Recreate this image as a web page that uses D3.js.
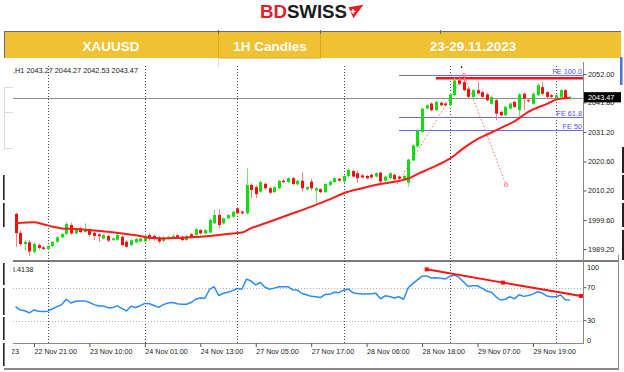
<!DOCTYPE html>
<html>
<head>
<meta charset="utf-8">
<script src="https://cdn.jsdelivr.net/npm/d3@7"></script>
<style>
  body { margin: 0; background: #fff; }
  svg { display: block; font-family: 'Liberation Sans', Arial, sans-serif; }
</style>
</head>
<body>
<div id="chart"></div>
<script>
// XAUUSD H1 candles, one entry per bar (bar 0 = 22 Nov 17:00)
const opens = [2001.8, 1995.0, 1991.0, 1991.6, 1988.2, 1990.6, 1989.8, 1989.2, 1990.3, 1991.8,
  1993.4, 1994.6, 1997.8, 1994.8, 1996.6, 1995.3, 1996.3, 1995.0, 1994.4, 1993.0,
  1993.9, 1992.4, 1992.5, 1993.6, 1991.8, 1990.6, 1991.6, 1991.9, 1991.9, 1994.2,
  1993.9, 1993.4, 1992.1, 1993.0, 1993.5, 1994.1, 1993.6, 1992.4, 1994.5, 1994.2,
  1996.0, 1994.8, 1995.1, 1998.4, 2001.4, 1998.4, 2000.2, 2000.8, 2003.8, 2002.6,
  2002.0, 2012.2, 2011.4, 2009.8, 2012.6, 2011.0, 2009.6, 2011.0, 2013.7, 2013.2,
  2014.6, 2012.4, 2013.7, 2010.6, 2013.4, 2010.2, 2010.7, 2009.6, 2012.2, 2013.2,
  2014.4, 2013.4, 2015.4, 2017.2, 2016.4, 2015.6, 2015.4, 2015.8, 2015.2, 2016.6,
  2013.7, 2014.6, 2015.8, 2015.2, 2014.0, 2013.0, 2021.0, 2026.0, 2031.2, 2039.6,
  2041.4, 2039.0, 2041.7, 2041.4, 2040.8, 2044.4, 2049.7, 2049.1, 2046.7, 2043.8,
  2046.2, 2045.5, 2044.7, 2041.3, 2042.6, 2038.4, 2037.2, 2039.6, 2042.0, 2039.0,
  2044.9, 2042.6, 2041.3, 2044.4, 2047.3, 2045.5, 2044.4, 2043.4, 2043.8, 2046.2,
  2043.27];
const highs = [2002.2, 1995.8, 1992.4, 1992.4, 1991.6, 1991.2, 1990.2, 1990.6, 1992.0, 1993.8,
  1995.0, 1998.9, 1998.6, 1996.4, 1997.0, 1998.4, 1996.6, 1995.4, 1994.8, 1994.6,
  1994.3, 1993.3, 1994.8, 1994.0, 1992.4, 1992.8, 1993.2, 1993.4, 1994.4, 1995.0,
  1994.4, 1993.8, 1993.8, 1994.0, 1994.6, 1994.6, 1994.0, 1994.4, 1994.9, 1996.8,
  1996.4, 1996.4, 2000.2, 2003.2, 2003.5, 2000.6, 2001.8, 2003.0, 2004.4, 2003.0,
  2018.2, 2012.8, 2012.2, 2013.8, 2013.0, 2011.6, 2011.8, 2014.0, 2014.2, 2015.0,
  2015.0, 2014.0, 2016.6, 2011.8, 2014.4, 2011.4, 2011.0, 2012.8, 2013.8, 2015.0,
  2014.8, 2015.8, 2018.2, 2017.6, 2017.4, 2016.0, 2015.8, 2016.2, 2016.8, 2017.0,
  2015.6, 2016.8, 2016.2, 2015.6, 2015.8, 2021.6, 2026.8, 2032.2, 2040.0, 2041.2,
  2041.8, 2042.4, 2042.2, 2041.8, 2045.2, 2050.6, 2051.5, 2051.6, 2047.2, 2046.6,
  2049.1, 2046.0, 2045.2, 2044.2, 2043.2, 2038.8, 2040.6, 2041.8, 2042.4, 2045.2,
  2045.4, 2043.0, 2045.4, 2048.6, 2049.1, 2046.0, 2044.8, 2044.8, 2046.6, 2046.6,
  2044.27];
const lows = [1989.9, 1990.3, 1988.5, 1986.7, 1987.6, 1989.0, 1988.8, 1988.8, 1989.8, 1991.4,
  1993.0, 1994.2, 1994.2, 1994.4, 1994.9, 1995.0, 1993.6, 1992.4, 1991.7, 1992.6,
  1991.7, 1992.0, 1992.2, 1990.2, 1989.6, 1990.2, 1991.2, 1991.6, 1991.6, 1992.2,
  1992.2, 1991.2, 1991.8, 1992.6, 1993.2, 1993.0, 1992.0, 1992.0, 1993.0, 1993.9,
  1994.4, 1994.4, 1994.8, 1998.0, 1996.6, 1998.0, 1999.8, 2000.4, 2001.6, 2001.6,
  2001.6, 2007.4, 2007.4, 2009.4, 2010.4, 2009.0, 2009.2, 2010.6, 2012.8, 2012.8,
  2012.0, 2012.0, 2009.8, 2010.2, 2010.2, 2005.6, 2009.2, 2009.2, 2011.8, 2012.8,
  2013.4, 2013.0, 2015.0, 2014.8, 2013.0, 2014.5, 2014.2, 2014.5, 2014.8, 2012.8,
  2013.3, 2014.2, 2013.8, 2014.0, 2013.6, 2011.5, 2020.6, 2025.6, 2030.8, 2039.2,
  2038.6, 2038.6, 2040.4, 2040.4, 2040.4, 2044.0, 2048.0, 2045.8, 2043.2, 2043.4,
  2044.6, 2043.4, 2042.2, 2040.9, 2035.4, 2036.8, 2036.8, 2039.2, 2039.8, 2036.7,
  2039.0, 2041.8, 2040.9, 2044.0, 2044.5, 2043.4, 2043.4, 2043.0, 2043.4, 2043.0,
  2042.53];
const closes = [1994.9, 1991.0, 1991.8, 1988.3, 1991.0, 1989.6, 1989.2, 1990.3, 1991.8, 1993.4,
  1994.6, 1998.2, 1994.8, 1996.0, 1995.3, 1996.0, 1994.3, 1993.9, 1993.8, 1994.2,
  1992.2, 1993.0, 1994.3, 1990.6, 1990.0, 1992.4, 1992.8, 1993.0, 1993.9, 1993.0,
  1992.9, 1991.9, 1993.4, 1993.6, 1993.9, 1993.4, 1992.4, 1993.9, 1993.4, 1996.3,
  1994.8, 1996.0, 1999.6, 2001.4, 1997.8, 2000.2, 2001.4, 2002.6, 2002.0, 2002.0,
  2012.2, 2010.4, 2008.9, 2013.2, 2011.0, 2009.4, 2011.4, 2013.7, 2013.2, 2014.6,
  2012.5, 2013.7, 2011.0, 2011.4, 2011.0, 2011.0, 2009.6, 2012.5, 2013.4, 2014.6,
  2013.7, 2015.4, 2017.6, 2015.2, 2014.6, 2014.9, 2014.6, 2014.9, 2016.4, 2013.4,
  2015.2, 2016.4, 2014.2, 2014.4, 2015.4, 2021.3, 2026.4, 2031.6, 2039.6, 2040.8,
  2039.0, 2042.0, 2040.8, 2040.8, 2044.7, 2049.7, 2048.5, 2046.2, 2043.8, 2046.2,
  2045.0, 2043.8, 2042.6, 2043.7, 2037.8, 2037.2, 2040.2, 2041.4, 2040.2, 2044.7,
  2043.2, 2042.2, 2044.9, 2048.0, 2044.9, 2043.8, 2043.8, 2044.4, 2046.2, 2043.4,
  2043.47];

// moving average, read at some bars
const maBars = [0, 4, 6, 8, 10, 13, 16, 20, 24, 27, 29, 32, 38, 42, 46, 49, 51, 53, 55, 59,
  64, 68, 71, 75, 79, 83, 85, 87, 90, 94, 97, 100, 103, 105, 108, 111, 115, 117, 119, 120];
const maValues = [1998.4, 1998.8, 1998.1, 1997.2, 1996.6, 1996.4, 1996.0, 1995.4, 1994.6, 1993.9,
  1993.2, 1993.0, 1993.4, 1993.9, 1994.6, 1995.1, 1996.7, 1997.8, 1999.0, 2001.4,
  2004.4, 2007.0, 2009.2, 2011.0, 2012.5, 2013.6, 2014.5, 2016.1, 2018.3, 2021.6,
  2025.4, 2028.6, 2031.0, 2032.6, 2035.0, 2038.4, 2041.3, 2042.8, 2043.4, 2043.5];

// RSI, one value per bar
const rsiValues = [47, 43, 42, 39.5, 43, 41.5, 41, 41.5, 44.5, 47,
  49.5, 56, 51.5, 53.5, 54, 54, 52, 49.5, 47.8, 47.8,
  45.8, 45.8, 48, 45, 41.8, 47.5, 46, 48.2, 51, 50.5,
  48.5, 46.2, 49.5, 51.5, 52, 50.5, 50, 50, 52, 56,
  57.5, 57.2, 68, 71.2, 60.5, 63.2, 64.5, 66.5, 69, 68.1,
  80.5, 78.1, 73.5, 76.3, 70.5, 68.1, 69.5, 71.2, 71.2, 71.2,
  67.5, 67.2, 63, 61.5, 59.5, 59, 58, 61.8, 62, 64.5,
  64, 67, 68.5, 64, 63, 62.4, 62.4, 62.8, 63.2, 56.5,
  60.2, 59.3, 57.5, 59, 56, 70, 75, 79.5, 84, 84.3,
  81.8, 82, 81.5, 80.5, 84, 85.2, 82.5, 77, 71.5, 72.4,
  72.4, 69.3, 66, 64.4, 59, 55.1, 56, 59, 56.5, 61.5,
  59.5, 60.5, 62.2, 65.2, 63.5, 60, 59.1, 59.1, 61.2, 55.5,
  55.1];

const timeLabelBars = [4, 16, 28, 40, 52, 64, 76, 88, 100, 112];
const timeLabels = ['22 Nov 21:00', '23 Nov 10:00', '24 Nov 01:00', '24 Nov 13:00', '27 Nov 05:00',
  '27 Nov 17:00', '28 Nov 06:00', '28 Nov 18:00', '29 Nov 07:00', '29 Nov 19:00'];
const daySeparatorBars = [7, 28, 48, 71, 94, 117];
const priceTicks = [2052.0, 2041.8, 2031.2, 2020.6, 2010.2, 1999.6, 1989.2];
const rsiTicks = [100, 70, 30, 0];
const rsiGrid = [70, 30];

const feLevels = [2051.5, 2036.4, 2031.9];
const feLabels = ['FE 100.0', 'FE 61.8', 'FE 50'];
const feStartBar = 83;
const fePointBars = [82.6, 97.1, 106.2];
const fePointPrices = [2012.5, 2051.6, 2012.2];
const resistancePrice = 2050.45;
const resistanceStartBar = 91;
const lastPrice = 2043.47;
const rsiTrendBars = [89, 105.5, 122.5];
const rsiTrendValues = [92.3, 76.2, 60];

const headerCells = ['XAUUSD', '1H Candles', '23-29.11.2023'];
const quoteText = ',H1  2043.27 2044.27 2042.53 2043.47';
const rsiTitle = 'I.4138';

const width = 624;
const height = 372;
const plot = { left: 13, right: 583, top: 62, mainBottom: 260, rsiTop: 262, rsiBottom: 343 };

const svg = d3.select('#chart')
  .append('svg')
  .attr('width', width)
  .attr('height', height);

const defs = svg.append('defs');
defs.append('clipPath').attr('id', 'clipMain')
  .append('rect')
  .attr('x', plot.left).attr('y', plot.top)
  .attr('width', plot.right - plot.left).attr('height', plot.mainBottom - plot.top);
defs.append('clipPath').attr('id', 'clipRsi')
  .append('rect')
  .attr('x', plot.left).attr('y', plot.rsiTop)
  .attr('width', plot.right - plot.left).attr('height', plot.rsiBottom - plot.rsiTop);
defs.append('clipPath').attr('id', 'clipLeft')
  .append('rect')
  .attr('x', plot.left - 1).attr('y', 0)
  .attr('width', width).attr('height', height);

// ---- logo + header bar ----
const logo = svg.append('text')
  .attr('x', 260)
  .attr('y', 18.4)
  .attr('font-size', 17.5)
  .attr('font-weight', 'bold')
  .attr('textLength', 87)
  .attr('lengthAdjust', 'spacingAndGlyphs');
logo.append('tspan').attr('fill', '#e3202a').text('BD');
logo.append('tspan').attr('fill', '#1b1b1b').text('SWISS');

svg.append('path')
  .attr('d', 'M348.5,7.2 L363.5,4.8 L353.5,18.2 Z')
  .attr('fill', '#e3202a');
svg.append('path')
  .attr('d', 'M350.5,11.5 h5 M353,9 v5')
  .attr('stroke', '#fff')
  .attr('stroke-width', 1.3);

const header = svg.append('g');
header.append('rect')
  .attr('x', 4).attr('y', 31)
  .attr('width', 617).attr('height', 27)
  .attr('fill', '#efc133');
header.append('rect')
  .attr('x', 218.5).attr('y', 31.5)
  .attr('width', 102).attr('height', 26.5)
  .attr('fill', 'none')
  .attr('stroke', '#d8aa22');
header.append('line')
  .attr('x1', 4).attr('x2', 621)
  .attr('y1', 31.5).attr('y2', 31.5)
  .attr('stroke', '#6b6b6b');
header.append('line')
  .attr('x1', 4.5).attr('x2', 4.5)
  .attr('y1', 31).attr('y2', 58)
  .attr('stroke', '#6b6b6b');
[218.5, 320.5, 440.5].forEach((xx) => {
  header.append('line')
    .attr('x1', xx).attr('x2', xx)
    .attr('y1', 30).attr('y2', 34)
    .attr('stroke', '#6b6b6b');
});
svg.append('line')
  .attr('x1', 218.5).attr('x2', 218.5)
  .attr('y1', 58).attr('y2', 67)
  .attr('stroke', '#d9d9d9');

const headerX = [111, 270, 473];
header.selectAll('text.cell')
  .data(headerCells)
  .join('text')
  .attr('class', 'cell')
  .attr('x', (d, i) => headerX[i])
  .attr('y', 50.5)
  .attr('text-anchor', 'middle')
  .attr('font-size', 13.5)
  .attr('font-weight', 'bold')
  .attr('fill', '#fff')
  .text(d => d);

// ---- scales ----
const x = d3.scaleLinear().domain([0, 120]).range([15.5, 569.9]);
const y = d3.scaleLinear().domain([1989.2, 2052]).range([249, 74]);
const yRsi = d3.scaleLinear().domain([0, 100]).range([345.4, 263]);
const px = i => Math.round(x(i)) + 0.5;

// ---- frame ----
svg.append('line')
  .attr('x1', plot.left).attr('x2', 618)
  .attr('y1', 261).attr('y2', 261)
  .attr('stroke', '#7a7a7a')
  .attr('stroke-width', 2);
svg.append('line')
  .attr('x1', plot.right + 0.5).attr('x2', plot.right + 0.5)
  .attr('y1', plot.top).attr('y2', plot.rsiBottom + 1)
  .attr('stroke', '#8a8a8a');
svg.append('line')
  .attr('x1', plot.left).attr('x2', plot.right)
  .attr('y1', plot.rsiBottom + 0.5).attr('y2', plot.rsiBottom + 0.5)
  .attr('stroke', '#8a8a8a');
svg.append('line')
  .attr('x1', 4).attr('x2', 619)
  .attr('y1', 369).attr('y2', 369)
  .attr('stroke', '#8a8a8a')
  .attr('stroke-width', 2);
svg.append('line')
  .attr('x1', 618.5).attr('x2', 618.5)
  .attr('y1', 255).attr('y2', 369)
  .attr('stroke', '#8a8a8a');

// side marks of the surrounding document
svg.append('rect').attr('x', 620).attr('y', 57).attr('width', 2.5).attr('height', 28).attr('fill', '#4a78d0');
[[147, 173], [175, 200], [203, 227], [230, 260]].forEach((s) => {
  svg.append('rect').attr('x', 622).attr('y', s[0]).attr('width', 2).attr('height', s[1] - s[0]).attr('fill', '#222');
});
[[175, 200], [203, 227], [263, 285], [288, 315], [317, 340], [343, 366]].forEach((s) => {
  svg.append('rect').attr('x', 3).attr('y', s[0]).attr('width', 1.6).attr('height', s[1] - s[0]).attr('fill', '#222');
});
[87.5, 112.5, 148.5].forEach((yy) => {
  svg.append('line').attr('x1', 4).attr('x2', 13).attr('y1', yy).attr('y2', yy).attr('stroke', '#dcdcdc');
});
svg.append('line').attr('x1', 4.5).attr('x2', 4.5).attr('y1', 87).attr('y2', 149).attr('stroke', '#dcdcdc');

// ---- day separators ----
svg.append('g')
  .selectAll('line')
  .data(daySeparatorBars)
  .join('line')
  .attr('x1', d => px(d)).attr('x2', d => px(d))
  .attr('y1', 66).attr('y2', plot.rsiBottom)
  .attr('stroke', '#444')
  .attr('stroke-dasharray', '1,2');

// ---- price axis ----
const yAxis = d3.axisRight(y)
  .tickValues(priceTicks)
  .tickSize(3)
  .tickFormat(d3.format('.2f'));

const yLabel = svg.append('g')
  .attr('transform', `translate(${plot.right + 0.5}, 0)`)
  .call(yAxis);
yLabel.select('.domain').remove();
yLabel.selectAll('line').attr('stroke', '#555');
yLabel.selectAll('text')
  .attr('x', 4.5)
  .attr('font-size', 7.3)
  .attr('font-family', 'Liberation Sans, Arial, sans-serif')
  .attr('fill', '#222');

// ---- main panel ----
const main = svg.append('g').attr('clip-path', 'url(#clipMain)');

main.append('line')
  .attr('x1', plot.left).attr('x2', plot.right)
  .attr('y1', Math.round(y(lastPrice)) + 0.5).attr('y2', Math.round(y(lastPrice)) + 0.5)
  .attr('stroke', '#8c8c8c');

main.selectAll('line.fe')
  .data(feLevels)
  .join('line')
  .attr('class', 'fe')
  .attr('x1', x(feStartBar)).attr('x2', plot.right)
  .attr('y1', d => Math.round(y(d)) + 0.5).attr('y2', d => Math.round(y(d)) + 0.5)
  .attr('stroke', '#6a6af5');

main.selectAll('text.fe')
  .data(feLevels)
  .join('text')
  .attr('class', 'fe')
  .attr('x', plot.right - 1)
  .attr('y', d => y(d) - 1)
  .attr('text-anchor', 'end')
  .attr('font-size', 7.3)
  .attr('fill', '#4f4fe8')
  .text((d, i) => feLabels[i]);

main.append('line')
  .attr('x1', x(resistanceStartBar)).attr('x2', plot.right)
  .attr('y1', y(resistancePrice)).attr('y2', y(resistancePrice))
  .attr('stroke', '#ff1010')
  .attr('stroke-width', 2.5);

const fePath = d3.line()
  .x(d => x(d[0]))
  .y(d => y(d[1]));
const fePoints = fePointBars.map((b, i) => [b, fePointPrices[i]]);
main.append('path')
  .datum(fePoints)
  .attr('fill', 'none')
  .attr('stroke', '#ff6a6a')
  .attr('stroke-dasharray', '1.5,2')
  .attr('d', fePath);
main.selectAll('circle.fe')
  .data(fePoints.slice(1))
  .join('circle')
  .attr('class', 'fe')
  .attr('cx', d => x(d[0])).attr('cy', d => y(d[1]))
  .attr('r', 1.8)
  .attr('fill', 'none')
  .attr('stroke', '#ff7a7a');
main.append('circle')
  .attr('cx', x(fePointBars[1]) - 2.5).attr('cy', 67)
  .attr('r', 0.9)
  .attr('fill', '#333');

const candles = d3.range(opens.length).map(i => ({
  i, o: opens[i], h: highs[i], l: lows[i], c: closes[i],
}));
const cg = main.append('g')
  .selectAll('g')
  .data(candles)
  .join('g');
cg.append('line')
  .attr('x1', d => px(d.i)).attr('x2', d => px(d.i))
  .attr('y1', d => y(d.h)).attr('y2', d => y(d.l))
  .attr('stroke', d => (d.c >= d.o ? '#7be27b' : '#ff7d7d'));
cg.append('rect')
  .attr('x', d => Math.round(x(d.i)) - 1)
  .attr('width', 3)
  .attr('y', d => y(Math.max(d.o, d.c)))
  .attr('height', d => Math.max(1, Math.abs(y(d.o) - y(d.c))))
  .attr('fill', d => (d.c >= d.o ? '#12dc12' : '#ff0a0a'));

const maLine = d3.line()
  .x(d => x(d[0]))
  .y(d => y(d[1]))
  .curve(d3.curveMonotoneX);
main.append('path')
  .datum(maBars.map((b, i) => [b, maValues[i]]))
  .attr('fill', 'none')
  .attr('stroke', '#ff1a1a')
  .attr('stroke-width', 2)
  .attr('stroke-linejoin', 'round')
  .attr('d', maLine);

svg.append('text')
  .attr('x', plot.left)
  .attr('y', 72.5)
  .attr('font-size', 7.3)
  .attr('fill', '#222')
  .text(quoteText);

// last price badge
svg.append('rect')
  .attr('x', plot.right + 1).attr('y', y(lastPrice) - 5.6)
  .attr('width', 37).attr('height', 10.2)
  .attr('fill', '#000');
svg.append('text')
  .attr('x', plot.right + 5).attr('y', y(lastPrice) + 2.6)
  .attr('font-size', 7.3)
  .attr('fill', '#fff')
  .text(lastPrice.toFixed(2));

// ---- RSI panel ----
const rsi = svg.append('g').attr('clip-path', 'url(#clipRsi)');

rsi.selectAll('line.grid')
  .data(rsiGrid)
  .join('line')
  .attr('class', 'grid')
  .attr('x1', plot.left).attr('x2', plot.right)
  .attr('y1', d => Math.round(yRsi(d)) + 0.5).attr('y2', d => Math.round(yRsi(d)) + 0.5)
  .attr('stroke', '#b0b0b0')
  .attr('stroke-dasharray', '1,2');

const rsiLine = d3.line()
  .x((d, i) => x(i))
  .y(d => yRsi(d));
rsi.append('path')
  .datum(rsiValues)
  .attr('fill', 'none')
  .attr('stroke', '#2b8cf0')
  .attr('stroke-width', 1.5)
  .attr('stroke-linejoin', 'round')
  .attr('d', rsiLine);

const rsiTrend = rsiTrendBars.map((b, i) => [b, rsiTrendValues[i]]);
svg.append('path')
  .datum(rsiTrend)
  .attr('fill', 'none')
  .attr('stroke', '#ff1010')
  .attr('stroke-width', 2)
  .attr('d', d3.line().x(d => Math.min(x(d[0]), plot.right - 2)).y(d => yRsi(d[1])));
svg.selectAll('rect.rsiMark')
  .data(rsiTrend)
  .join('rect')
  .attr('class', 'rsiMark')
  .attr('x', d => Math.min(x(d[0]), plot.right - 2) - 2)
  .attr('y', d => yRsi(d[1]) - 2)
  .attr('width', 4).attr('height', 4)
  .attr('fill', '#ff1010');

svg.append('text')
  .attr('x', plot.left)
  .attr('y', 272)
  .attr('font-size', 7.3)
  .attr('fill', '#222')
  .text(rsiTitle);

svg.selectAll('line.rsiTick')
  .data(rsiGrid)
  .join('line')
  .attr('class', 'rsiTick')
  .attr('x1', plot.right + 0.5).attr('x2', plot.right + 3.5)
  .attr('y1', d => yRsi(d)).attr('y2', d => yRsi(d))
  .attr('stroke', '#555');
svg.selectAll('text.rsiTick')
  .data(rsiTicks)
  .join('text')
  .attr('class', 'rsiTick')
  .attr('x', plot.right + 4)
  .attr('y', d => Math.min(Math.max(yRsi(d), 267.5), 340) + 2.6)
  .attr('font-size', 7.3)
  .attr('fill', '#222')
  .text(d => d);

// ---- time axis ----
const xAxis = d3.axisBottom(x)
  .tickValues(timeLabelBars)
  .tickSize(4)
  .tickFormat((d, i) => timeLabels[i]);

const xLabel = svg.append('g')
  .attr('transform', `translate(0, ${plot.rsiBottom})`)
  .call(xAxis);
xLabel.select('.domain').remove();
xLabel.selectAll('line').attr('stroke', '#555');
xLabel.selectAll('text')
  .attr('x', 0)
  .attr('y', 6)
  .attr('text-anchor', 'start')
  .attr('font-size', 7.3)
  .attr('font-family', 'Liberation Sans, Arial, sans-serif')
  .attr('fill', '#222')
  .attr('textLength', 42.5)
  .attr('lengthAdjust', 'spacingAndGlyphs');

svg.append('g')
  .attr('clip-path', 'url(#clipLeft)')
  .append('text')
  .attr('x', 19)
  .attr('y', 354.2)
  .attr('text-anchor', 'end')
  .attr('font-size', 7.3)
  .attr('fill', '#222')
  .text('22 Nov 2023');
</script>
</body>
</html>
